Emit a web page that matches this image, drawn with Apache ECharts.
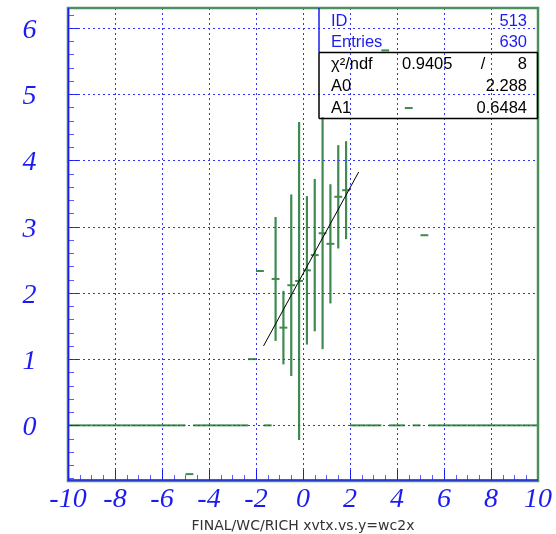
<!DOCTYPE html>
<html><head><meta charset="utf-8">
<script src="https://cdn.jsdelivr.net/npm/echarts@6/dist/echarts.min.js"></script>
<style>html,body{margin:0;padding:0;background:#fff}#c{width:556px;height:534px}</style>
</head><body><div id="c"></div>
<script>
// ---- data (profile histogram, 60 bins from -10 to 10) ----
const binCenters = [
  -9.8333,-9.5,-9.1667,-8.8333,-8.5,-8.1667,-7.8333,-7.5,-7.1667,-6.8333,
  -6.5,-6.1667,-5.8333,-5.5,-5.1667,-4.8333,-4.5,-4.1667,-3.8333,-3.5,
  -3.1667,-2.8333,-2.5,-2.1667,-1.8333,-1.5,-1.1667,-0.8333,-0.5,-0.1667,
  0.1667,0.5,0.8333,1.1667,1.5,1.8333,2.1667,2.5,2.8333,3.1667,
  3.5,3.8333,4.1667,4.5,4.8333,5.1667,5.5,5.8333,6.1667,6.5,
  6.8333,7.1667,7.5,7.8333,8.1667,8.5,8.8333,9.1667,9.5,9.8333
];
const binMeans = [
  0,0,0,0,0,0,0,0,0,0,
  0,0,0,0,0,-0.736,0,0,0,0,
  0,0,0,1.0,2.33,0,2.21,1.475,2.115,2.18,
  2.34,2.57,2.90,2.74,3.45,3.55,0,0,0,0,
  5.66,0,0,4.79,0,2.87,0,0,0,0,
  0,0,0,0,0,0,0,0,0,0
];
const binErrors = [
  0,0,0,0,0,0,0,0,0,0,
  0,0,0,0,0,0,0,0,0,0,
  0,0,0,0,0,0,0.935,0.555,1.37,2.40,
  1.12,1.15,1.75,0.90,0.78,0.74,0,0,0,0,
  0,0,0,0,0,0,0,0,0,0,
  0,0,0,0,0,0,0,0,0,0
];
const xTickLabels = [-10,-8,-6,-4,-2,0,2,4,6,8,10];
const yTickLabels = [0,1,2,3,4,5,6];
const fitA0 = 2.288, fitA1 = 0.6484;
const fitXRange = [-1.68, 2.37];
const histId = '513', histEntries = '630';
const chi2 = '0.9405', ndf = '8';
const a0Text = '2.288', a1Text = '0.6484';
const xTitle = 'FINAL/WC/RICH xvtx.vs.y=wc2x';

// ---- style ----
const X_MIN = -10, X_MAX = 10, Y_MIN = -0.84, Y_MAX = 6.3;
const BLUE = '#1c1cf0', GRIDC = '#3434ff', GREEN = '#3f8a52', FRAME = '#4d8f5f';
const GL = 68, GT = 8, GR = 538, GB = 481;
const DASH = [2,3];

const halfW = (binCenters[1] - binCenters[0]) / 2;

function renderBin(params, api) {
  const x = api.value(0), m = api.value(1), e = api.value(2);
  const p1 = api.coord([x - halfW, m]), p2 = api.coord([x + halfW, m]);
  const ch = [{type:'line', shape:{x1:p1[0], y1:p1[1], x2:p2[0], y2:p2[1]}, style:{stroke:GREEN, lineWidth:2}}];
  if (e > 0) {
    const t = api.coord([x, m + e]), b = api.coord([x, m - e]);
    ch.push({type:'line', shape:{x1:t[0], y1:t[1], x2:b[0], y2:b[1]}, style:{stroke:GREEN, lineWidth:2.2}});
  }
  return {type:'group', children:ch};
}

function renderYAxis(params, api) {
  const ch = [];
  const x0 = api.coord([X_MIN, 0])[0], x1 = api.coord([X_MAX, 0])[0];
  for (let k = Math.ceil(Y_MIN / 0.2 - 1e-9); k <= Math.floor(Y_MAX / 0.2 + 1e-9); k++) {
    const y = Math.round(api.coord([X_MIN, k * 0.2])[1]) + 0.5;
    const major = (k % 5 === 0);
    ch.push({type:'line', shape:{x1:x0, y1:y, x2:x0 + (major ? 11 : 6), y2:y},
      style:{stroke: major ? BLUE : '#5a5aff', lineWidth:1}});
  }
  yTickLabels.forEach(v => {
    const y = Math.round(api.coord([X_MIN, v])[1]) + 0.5;
    ch.push({type:'line', shape:{x1:x0, y1:y, x2:x1, y2:y}, style:{stroke:GRIDC, lineWidth:1, lineDash:DASH}});
    ch.push({type:'text', style:{text:String(v), x:29.5, y:y + 2.5, align:'center', verticalAlign:'middle',
      font:'italic 28px "Liberation Serif"', fill:BLUE}});
  });
  return {type:'group', children:ch};
}

const binData = binCenters.map((c, i) => [c, binMeans[i], binErrors[i]]);
const fitData = fitXRange.map(x => [x, fitA0 + fitA1 * x]);

const txt = (text, x, y, align, color) => ({type:'text', z:20, style:{text, x, y, align, verticalAlign:'middle',
  font:'16.5px "Liberation Sans"', fill:color}});
const ln = (x1, y1, x2, y2, color, w) => ({type:'line', z:19, shape:{x1, y1, x2, y2}, style:{stroke:color, lineWidth:w || 1.5}});

const chart = echarts.init(document.getElementById('c'), null, {renderer:'canvas'});
chart.setOption({
  animation:false,
  backgroundColor:'#fff',
  grid:{left:GL, top:GT, width:GR - GL, height:GB - GT, containLabel:false, outerBoundsMode:'none'},
  xAxis:{type:'value', min:X_MIN, max:X_MAX, interval:2,
    axisLine:{show:true, onZero:false, lineStyle:{color:BLUE, width:1.5}},
    axisTick:{show:true, inside:true, length:11, lineStyle:{color:BLUE, width:1}},
    minorTick:{show:true, splitNumber:4, length:6, lineStyle:{color:'#5a5aff', width:1}},
    splitLine:{show:true, lineStyle:{color:GRIDC, width:1, type:DASH}},
    axisLabel:{show:true, margin:5, fontFamily:'Liberation Serif', fontStyle:'italic', fontSize:28, color:BLUE,
      formatter: v => xTickLabels.includes(v) ? String(v) : ''},
    name:xTitle, nameLocation:'middle', nameGap:35,
    nameTextStyle:{fontFamily:'DejaVu Sans', fontSize:14, color:'#333'}
  },
  yAxis:{type:'value', min:Y_MIN, max:Y_MAX,
    axisLine:{show:false}, axisTick:{show:false}, axisLabel:{show:false}, splitLine:{show:false}},
  series:[
    {type:'custom', z:3, renderItem:renderBin, data:binData, clip:false},
    {type:'custom', z:4, renderItem:renderYAxis, data:[[0,0]], clip:false, silent:true},
    {type:'line', z:5, data:fitData, symbol:'none', lineStyle:{color:'#000', width:1}}
  ],
  graphic:[
    {type:'rect', z:15, shape:{x:GL, y:GT, width:GR - GL, height:GB - GT}, style:{fill:'none', stroke:FRAME, lineWidth:2.5}},
    ln(GL + 0.5, GT, GL + 0.5, GB, BLUE, 1.5),
    ln(GL, GB - 1, GR, GB - 1, BLUE, 1.5),
    ln(319, GT, 319, 52.5, BLUE, 1.5),
    ln(319, 52.5, 319, 118.5, '#000', 1.5),
    ln(319, 52.5, GR, 52.5, '#000', 1.5),
    ln(319, 118.5, GR, 118.5, '#000', 1.5),
    ln(GR - 0.5, 52.5, GR - 0.5, 118.5, '#000', 1.5),
    txt('ID', 331, 21, 'left', BLUE),
    txt(histId, 527, 21, 'right', BLUE),
    txt('Entries', 331, 42, 'left', BLUE),
    txt(histEntries, 527, 42, 'right', BLUE),
    txt('\u03c7\u00b2/ndf', 331, 64, 'left', '#000'),
    txt(chi2, 402, 64, 'left', '#000'),
    txt('/', 483, 64, 'center', '#000'),
    txt(ndf, 527, 64, 'right', '#000'),
    txt('A0', 331, 86, 'left', '#000'),
    txt(a0Text, 527, 86, 'right', '#000'),
    txt('A1', 331, 108, 'left', '#000'),
    txt(a1Text, 527, 108, 'right', '#000')
  ]
});
</script>
</body></html>
